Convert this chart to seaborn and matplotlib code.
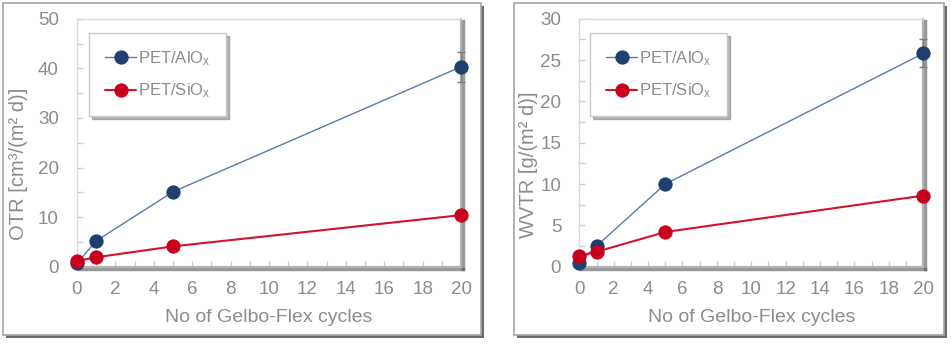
import matplotlib
matplotlib.use("Agg")
import matplotlib.pyplot as plt
import matplotlib.patheffects as pe
from matplotlib.patches import Rectangle
from matplotlib.ticker import MultipleLocator
import pandas as pd
import seaborn as sns

# Gelbo-Flex cycles and measured permeation values
cycles = [0, 1, 5, 20]
otr_alox = [0.7, 5.2, 15.1, 40.3]
otr_siox = [1.15, 1.9, 4.1, 10.4]
otr_alox_err = [0, 0, 0, 3.0]
wvtr_alox = [0.5, 2.5, 10.0, 25.8]
wvtr_siox = [1.3, 1.8, 4.2, 8.6]
wvtr_alox_err = [0, 0, 0, 1.7]

series_names = ["PET/AlO$_\\mathregular{x}$", "PET/SiO$_\\mathregular{x}$"]
x_label = "No of Gelbo-Flex cycles"
otr_label = "OTR [cm³/(m² d)]"
wvtr_label = "WVTR [g/(m² d)]"

sns.set_theme(style="white")
plt.rcParams["font.family"] = ["Liberation Sans", "DejaVu Sans"]
plt.rcParams["mathtext.default"] = "regular"

TEXT = "#8c8c8c"
BLUE_MK = "#1f3f6e"
BLUE_LN = "#5a7bab"
RED_MK = "#c8001e"
RED_LN = "#d0142c"

W, H = 952, 344
fig = plt.figure(figsize=(W / 100, H / 100), dpi=100)
fig.patch.set_facecolor("white")


def fx(px):
    return px / W


def fy(py):
    return 1 - py / H


def panel_frame(x0, y0, x1, y1):
    r = Rectangle((fx(x0), fy(y1)), fx(x1) - fx(x0), fy(y0) - fy(y1),
                  transform=fig.transFigure, facecolor="white",
                  edgecolor="#a6a6a6", lw=1.2, zorder=-2,
                  path_effects=[pe.SimplePatchShadow(offset=(2.2, -2.2),
                                                     shadow_rgbFace="#3a3a3a",
                                                     alpha=0.75),
                                pe.Normal()])
    fig.add_artist(r)


panel_frame(3, 3, 481, 335)
panel_frame(514, 3, 944, 335)


def draw_panel(rect, alox, siox, err, ymax, ystep, ylabel, ylab_pos):
    ax = fig.add_axes(rect)
    ax.set_facecolor("white")
    df = pd.DataFrame({"cycles": cycles * 2,
                       "value": alox + siox,
                       "series": [series_names[0]] * 4 + [series_names[1]] * 4})
    sns.lineplot(data=df[df.series == series_names[0]], x="cycles", y="value",
                 ax=ax, color=BLUE_LN, lw=1.0, marker="o", markersize=9.5,
                 markerfacecolor=BLUE_MK, markeredgecolor=BLUE_MK,
                 label=series_names[0], clip_on=False, zorder=5)
    sns.lineplot(data=df[df.series == series_names[1]], x="cycles", y="value",
                 ax=ax, color=RED_LN, lw=1.5, marker="o", markersize=9.5,
                 markerfacecolor=RED_MK, markeredgecolor=RED_MK,
                 label=series_names[1], clip_on=False, zorder=6)
    ax.errorbar([cycles[-1]], [alox[-1]], yerr=[err[-1]], fmt="none",
                ecolor="#7f7f7f", elinewidth=1.0, capsize=3, capthick=1.0,
                zorder=4, clip_on=False)

    ax.set_xlim(0, 20)
    ax.set_ylim(0, ymax)
    ax.xaxis.set_major_locator(MultipleLocator(2))
    ax.xaxis.set_minor_locator(MultipleLocator(1))
    ax.yaxis.set_major_locator(MultipleLocator(ystep))
    ax.yaxis.set_minor_locator(MultipleLocator(ystep / 2))
    ax.tick_params(which="both", direction="in", length=4, width=1,
                   color="#cccccc", bottom=True, left=True)
    ax.tick_params(axis="x", which="major", labelsize=13.5,
                   labelcolor=TEXT, pad=10.5)
    ax.tick_params(axis="y", which="major", labelsize=13.5,
                   labelcolor=TEXT, pad=13)

    for side in ("top", "left"):
        ax.spines[side].set_color("#d9d9d9")
        ax.spines[side].set_linewidth(1.0)
    for side in ("right", "bottom"):
        ax.spines[side].set_color("#b3b3b3")
        ax.spines[side].set_linewidth(1.6)
        ax.spines[side].set_path_effects(
            [pe.SimpleLineShadow(offset=(1.5, -1.5), shadow_color="#555555",
                                 alpha=0.6, linewidth=2.5),
             pe.Normal()])

    ax.set_xlabel(x_label, fontsize=14, color=TEXT)
    ax.xaxis.set_label_coords(0.5, -0.203)
    ax.xaxis.label.set_va("center")
    ax.set_ylabel(ylabel, fontsize=14.5, color=TEXT)
    ax.yaxis.set_label_coords(*ylab_pos)
    ax.yaxis.label.set_va("center")

    leg = ax.legend(loc="upper left", bbox_to_anchor=(0.031, 0.942),
                    borderaxespad=0, frameon=True, fancybox=False,
                    shadow={"color": "#707070", "alpha": 0.5},
                    fontsize=12, labelcolor=TEXT, handlelength=1.9,
                    handletextpad=0.1, borderpad=0.95, labelspacing=0.85)
    frame = leg.get_frame()
    frame.set_edgecolor("#c8c8c8")
    frame.set_linewidth(1.0)
    return ax


y_top, y_bot = 18.7, 266.7
h = (y_bot - y_top) / H
draw_panel([fx(77), fy(y_bot), (461 - 77) / W, h],
           otr_alox, otr_siox, otr_alox_err, 50, 10, otr_label, (-0.152, 0.415))
draw_panel([fx(579.3), fy(y_bot), (923.3 - 579.3) / W, h],
           wvtr_alox, wvtr_siox, wvtr_alox_err, 30, 5, wvtr_label, (-0.148, 0.41))

fig.savefig("out.png", dpi=100, facecolor="white")
